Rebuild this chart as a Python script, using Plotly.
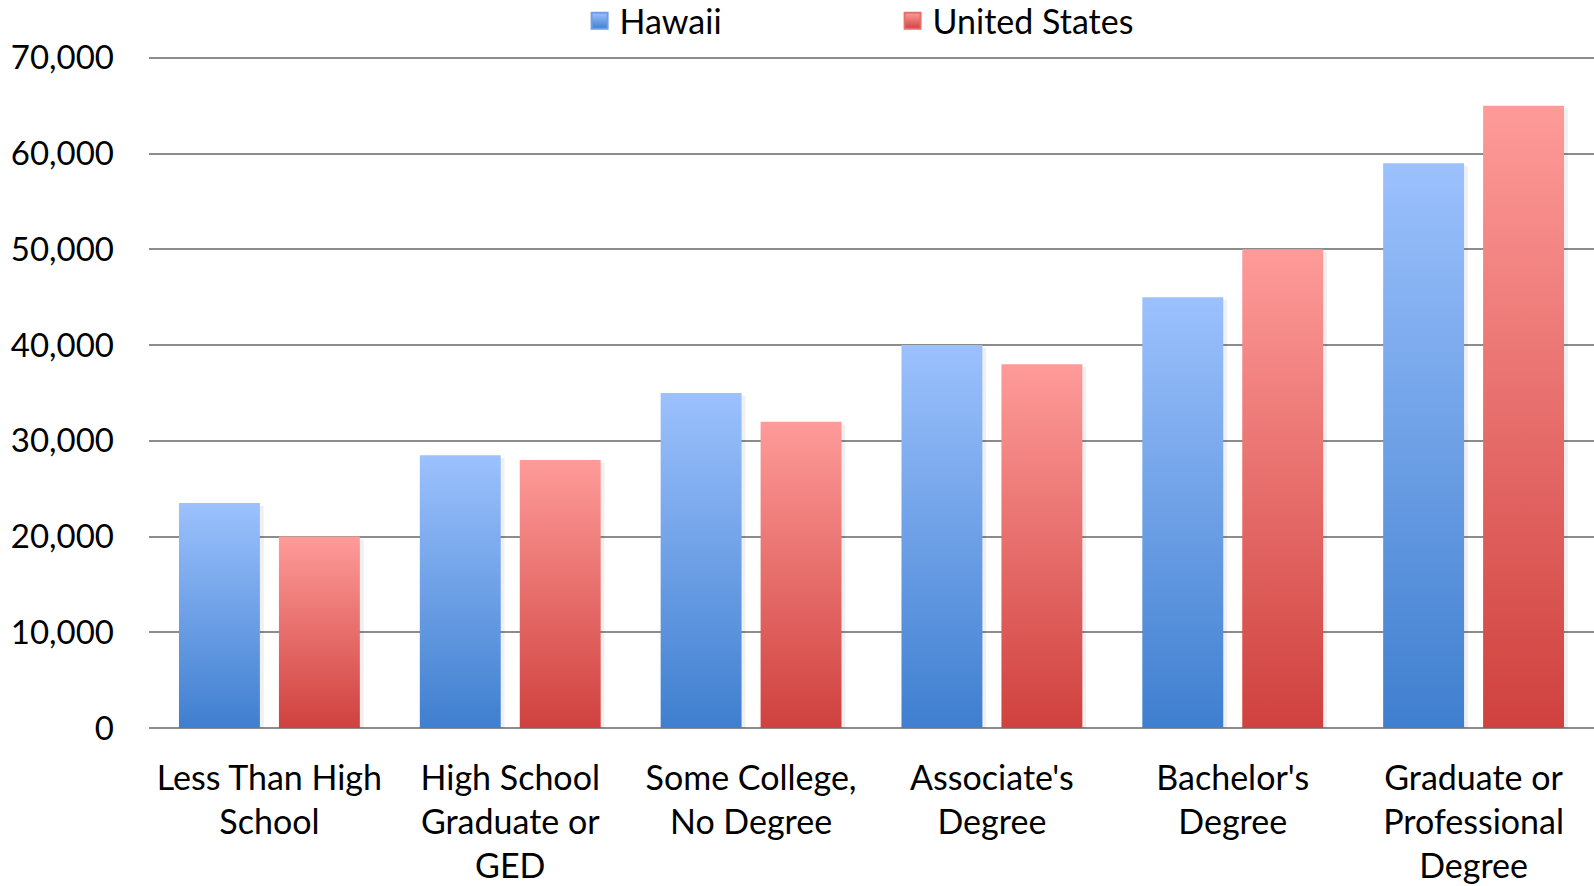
import plotly.graph_objects as go

categories = [
    "Less Than High<br>School",
    "High School<br>Graduate or<br>GED",
    "Some College,<br>No Degree",
    "Associate's<br>Degree",
    "Bachelor's<br>Degree",
    "Graduate or<br>Professional<br>Degree",
]
hawaii = [23500, 28500, 35000, 40000, 45000, 59000]
united_states = [20000, 28000, 32000, 38000, 50000, 65000]
series_names = ["Hawaii", "United States"]
y_tickvals = [0, 10000, 20000, 30000, 40000, 50000, 60000, 70000]
y_ticktext = ["0", "10,000", "20,000", "30,000", "40,000", "50,000", "60,000", "70,000"]

# style
grad = {
    "Hawaii": ("#3f7fcf", "#9cc1fd", "#6d9fe6"),          # bottom, top, mid
    "United States": ("#cf413e", "#fe9b99", "#e76e6c"),
}
slot = 0.415      # half-group slot width (category units)
bar_w = 0.336     # bar width (category units)
FONT = "Lato"

fig = go.Figure()

series = [("Hawaii", hawaii, -slot / 2), ("United States", united_states, slot / 2)]

# soft shadows
for name, vals, off in series:
    xs, ys = [], []
    for i, v in enumerate(vals):
        x0 = i + off - bar_w / 2 + 0.006
        x1 = i + off + bar_w / 2 + 0.016
        top = v - 300
        xs += [x0, x0, x1, x1, x0, None]
        ys += [0, top, top, 0, 0, None]
    fig.add_trace(go.Scatter(x=xs, y=ys, fill="toself", mode="lines",
                             line=dict(width=0), fillcolor="rgba(0,0,0,0.06)",
                             hoverinfo="skip", showlegend=False))

# gradient bars
for name, vals, off in series:
    bottom, top, mid = grad[name]
    for i, v in enumerate(vals):
        x0 = i + off - bar_w / 2
        x1 = i + off + bar_w / 2
        fig.add_trace(go.Scatter(
            x=[x0, x0, x1, x1, x0], y=[0, v, v, 0, 0],
            fill="toself", mode="lines", line=dict(width=0),
            fillgradient=dict(type="vertical", colorscale=[[0, bottom], [1, top]]),
            name=name, legendgroup=name, showlegend=False,
            hovertemplate=f"{name}: %{{y:,}}<extra></extra>",
        ))

# legend entries
for name in series_names:
    bottom, top, mid = grad[name]
    fig.add_trace(go.Scatter(
        x=[None], y=[None], mode="markers", name=name, legendgroup=name,
        marker=dict(symbol="square", size=20, color=top,
                    gradient=dict(type="vertical", color=bottom),
                    line=dict(width=2, color=mid)),
    ))

fig.update_layout(
    width=1594, height=886,
    margin=dict(l=149, r=0, t=55, b=158, autoexpand=False),
    plot_bgcolor="white", paper_bgcolor="white",
    font=dict(family=FONT, size=32, color="#000000"),
    showlegend=True,
    legend=dict(orientation="h", x=0.298, xanchor="left", yref="container",
                y=0.976, yanchor="middle", font=dict(size=34, family=FONT),
                entrywidth=268, itemsizing="trace", bgcolor="rgba(0,0,0,0)"),
    xaxis=dict(range=[-0.5, 5.5], tickmode="array",
               tickvals=list(range(len(categories))), ticktext=categories,
               showgrid=False, zeroline=False, showline=False, ticks="",
               tickfont=dict(size=34, family=FONT), ticklabelstandoff=27,
               automargin=False, fixedrange=True),
    yaxis=dict(range=[0, 70300], tickmode="array", tickvals=y_tickvals,
               ticktext=y_ticktext, showgrid=True, gridcolor="#8c8c8c",
               gridwidth=1.6, zeroline=True, zerolinecolor="#8c8c8c",
               zerolinewidth=1.6, showline=False, ticks="",
               tickfont=dict(size=33, family=FONT), ticklabelstandoff=34,
               automargin=False, fixedrange=True),
)

fig.write_html(
    "out.html",
    config={"displayModeBar": False},
    post_script="document.body.style.margin='0';document.body.style.overflow='hidden';",
)
